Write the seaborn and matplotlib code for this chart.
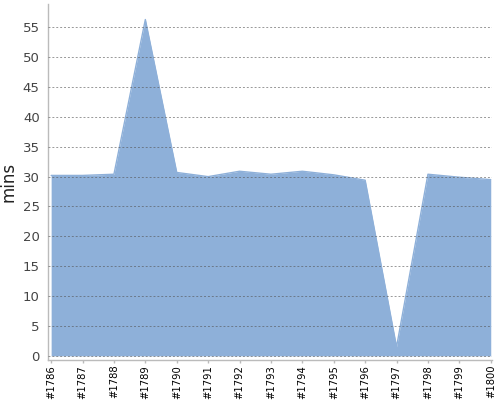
import numpy as np
import pandas as pd
import matplotlib
matplotlib.use("Agg")
import matplotlib.pyplot as plt
import seaborn as sns

# episode labels and durations (mins)
episodes = ['#1786', '#1787', '#1788', '#1789', '#1790', '#1791', '#1792', '#1793',
            '#1794', '#1795', '#1796', '#1797', '#1798', '#1799', '#1800']
mins = [30.2, 30.2, 30.4, 56.3, 30.7, 30.0, 30.9, 30.4,
        30.9, 30.3, 29.4, 1.5, 30.4, 29.9, 29.5]

df = pd.DataFrame({'episode': episodes, 'mins': mins})
df['pos'] = range(len(df))

sns.set_style('white')
fig = plt.figure(figsize=(5, 4), dpi=100)
ax = fig.add_axes([0.096, 0.10, 0.888, 0.89])

fill_col = '#8EB0D9'
ax.fill_between(df['pos'], df['mins'], 0, color=fill_col, linewidth=0, zorder=2)
sns.lineplot(data=df, x='pos', y='mins', color=fill_col, linewidth=1, ax=ax, zorder=2)

ax.set_xlim(-0.1, 14.04)
ax.set_ylim(-0.7, 58.9)
ax.set_yticks(range(0, 56, 5))
ax.set_xticks(df['pos'])
ax.set_xticklabels(df['episode'], rotation=90, fontsize=7.2, color='black')
ax.tick_params(axis='y', labelsize=9.5, labelcolor='#444444', length=0, pad=6)
ax.tick_params(axis='x', length=2.5, color='#bbbbbb', width=1, pad=1, bottom=True)

ax.yaxis.grid(True, linestyle=(0, (2, 2)), color='#555555', linewidth=0.7, alpha=0.6, zorder=3)
ax.set_axisbelow(False)
ax.xaxis.grid(False)

for s in ['top', 'right']:
    ax.spines[s].set_visible(False)
for s in ['left', 'bottom']:
    ax.spines[s].set_color('#bbbbbb')
    ax.spines[s].set_linewidth(1)

ax.set_xlabel('')
ax.set_ylabel('mins', fontsize=12, color='#222222', labelpad=4)

fig.savefig('out.png', dpi=100)
